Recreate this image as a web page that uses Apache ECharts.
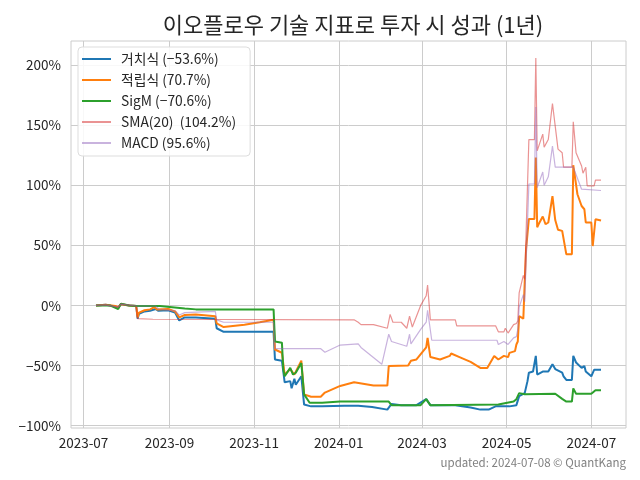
<!DOCTYPE html>
<html>
<head>
<meta charset="utf-8">
<script src="https://cdn.jsdelivr.net/npm/echarts@6/dist/echarts.min.js"></script>
<style>html,body{margin:0;padding:0;background:#fff;}#c{width:640px;height:480px;}</style>
</head>
<body>
<div id="c"></div>
<script>
var titleText = '이오플로우 기술 지표로 투자 시 성과 (1년)';
var footerText = 'updated: 2024-07-08 © QuantKang';
var seriesNames = ['거치식 (\u221253.6%)', '적립식 (70.7%)', 'SigM (\u221270.6%)', 'SMA(20)  (104.2%)', 'MACD (95.6%)'];
var xTickDates = ['2023-07-01','2023-09-01','2023-11-01','2024-01-01','2024-03-01','2024-05-01','2024-07-01'];
var yTicks = [-100, -50, 0, 50, 100, 150, 200];

var geochi = [
['2023-07-10',0],['2023-07-17',0.5],['2023-07-24',-1],['2023-07-26',-2],['2023-07-28',1],['2023-08-03',0],['2023-08-08',-0.5],
['2023-08-09',-11],['2023-08-10',-7],['2023-08-14',-5],['2023-08-18',-4.5],['2023-08-22',-3],['2023-08-24',-4.5],['2023-08-31',-4],
['2023-09-05',-6],['2023-09-08',-12.5],['2023-09-12',-10],['2023-09-20',-10],['2023-10-04',-11],['2023-10-05',-19],['2023-10-10',-22],
['2023-11-15',-22],['2023-11-16',-45],['2023-11-21',-46],['2023-11-23',-64],['2023-11-27',-63],['2023-11-28',-69],['2023-11-30',-61],
['2023-12-01',-66],['2023-12-05',-59],['2023-12-07',-82.5],['2023-12-12',-84],['2023-12-20',-84],['2024-01-05',-83.5],['2024-01-15',-83.5],
['2024-01-25',-84.5],['2024-02-05',-86.7],['2024-02-08',-82],['2024-02-15',-83],['2024-02-26',-83],['2024-03-04',-78],['2024-03-07',-83],
['2024-03-25',-83],['2024-04-05',-85],['2024-04-12',-86.7],['2024-04-18',-86.7],['2024-04-23',-84],['2024-05-03',-84],['2024-05-08',-83],
['2024-05-10',-75.5],['2024-05-14',-73],['2024-05-16',-63],['2024-05-17',-56],['2024-05-20',-55],['2024-05-22',-42],['2024-05-23',-57.5],
['2024-05-27',-55],['2024-05-28',-56],['2024-05-31',-55],['2024-06-03',-49],['2024-06-05',-53],['2024-06-10',-56],['2024-06-11',-59],
['2024-06-13',-62],['2024-06-17',-62],['2024-06-18',-42],['2024-06-20',-47.5],['2024-06-24',-52],['2024-06-26',-50.5],['2024-06-27',-55],
['2024-06-28',-55],['2024-07-01',-59],['2024-07-03',-53.6],['2024-07-08',-53.6]
];
var jeokrip = [
['2023-07-10',0],['2023-07-17',0.5],['2023-07-24',-0.5],['2023-07-26',-1.5],['2023-07-28',1],['2023-08-03',0],['2023-08-08',-0.5],
['2023-08-09',-10],['2023-08-10',-6],['2023-08-14',-4],['2023-08-18',-3.3],['2023-08-21',-1.5],['2023-08-23',-3.5],['2023-08-31',-3],
['2023-09-05',-5],['2023-09-08',-10],['2023-09-12',-8],['2023-09-20',-7.5],['2023-10-04',-9],['2023-10-05',-15],['2023-10-10',-18],
['2023-10-25',-16],['2023-11-05',-14],['2023-11-15',-12],['2023-11-16',-36.7],['2023-11-21',-39.4],['2023-11-23',-57.5],['2023-11-27',-53],
['2023-11-30',-57.5],['2023-12-05',-46],['2023-12-07',-74],['2023-12-12',-76],['2023-12-19',-76],['2023-12-22',-72.5],['2024-01-02',-67],
['2024-01-12',-64],['2024-01-26',-66.7],['2024-02-05',-66.7],['2024-02-06',-50.5],['2024-02-20',-50],['2024-02-22',-46],['2024-02-26',-45],
['2024-03-04',-35],['2024-03-05',-27],['2024-03-07',-43],['2024-03-14',-45],['2024-03-21',-42],['2024-03-22',-40],['2024-03-28',-43],
['2024-04-05',-47],['2024-04-12',-52],['2024-04-17',-52],['2024-04-22',-42],['2024-04-25',-45],['2024-04-29',-42],['2024-05-02',-43],
['2024-05-03',-39.5],['2024-05-07',-38],['2024-05-08',-32.5],['2024-05-09',-30],['2024-05-10',-9],['2024-05-13',-11],['2024-05-14',19],
['2024-05-15',47],['2024-05-17',72],['2024-05-21',72],['2024-05-22',123],['2024-05-23',65],['2024-05-24',67.5],['2024-05-27',74],
['2024-05-29',67.5],['2024-05-31',69],['2024-06-03',91],['2024-06-05',71],['2024-06-07',63],['2024-06-10',62],['2024-06-13',42.5],
['2024-06-17',42.5],['2024-06-18',116.7],['2024-06-21',92.5],['2024-06-24',82.7],['2024-06-26',80],['2024-06-27',69],['2024-07-01',69],
['2024-07-02',49.4],['2024-07-04',71.7],['2024-07-08',70.7]
];
var sigm = [
['2023-07-10',0],['2023-07-20',0],['2023-07-26',-3],['2023-07-28',1.5],['2023-08-03',0],['2023-08-08',-0.5],['2023-08-25',-0.5],
['2023-09-12',-2.5],['2023-09-20',-3.3],['2023-11-15',-3.3],['2023-11-16',-30],['2023-11-21',-31],['2023-11-22',-53],['2023-11-23',-59],
['2023-11-27',-52],['2023-11-29',-57.5],['2023-12-01',-56],['2023-12-05',-48],['2023-12-07',-74],['2023-12-11',-81],['2023-12-20',-81],
['2024-01-02',-80],['2024-02-06',-80],['2024-02-08',-83],['2024-02-29',-83],['2024-03-04',-78],['2024-03-07',-83],['2024-04-25',-82.5],
['2024-05-06',-80],['2024-05-08',-78],['2024-05-10',-73],['2024-05-14',-74],['2024-06-05',-73.5],['2024-06-10',-77.8],['2024-06-13',-80],
['2024-06-17',-80],['2024-06-18',-69],['2024-06-20',-73.5],['2024-07-01',-73.5],['2024-07-04',-70.6],['2024-07-08',-70.6]
];
var sma20 = [
['2023-07-10',0],['2023-07-17',0.5],['2023-07-26',-1.5],['2023-07-28',1],['2023-08-08',-0.5],['2023-08-09',-11],['2023-08-20',-11.5],
['2024-01-12',-12],['2024-01-15',-14],['2024-01-17',-16],['2024-01-26',-16],['2024-02-05',-19],['2024-02-07',-7.5],['2024-02-09',-14],
['2024-02-15',-14],['2024-02-19',-19],['2024-02-21',-9],['2024-02-23',-18],['2024-02-29',0],['2024-03-04',8],['2024-03-05',17],
['2024-03-07',-12],['2024-03-25',-12],['2024-03-26',-17],['2024-04-23',-17],['2024-04-25',-22],['2024-04-29',-22],['2024-04-30',-19],
['2024-05-02',-23],['2024-05-06',-16],['2024-05-08',-15],['2024-05-09',-13],['2024-05-10',10.5],['2024-05-13',25],['2024-05-14',21.7],
['2024-05-17',138],['2024-05-21',138],['2024-05-22',205.8],['2024-05-23',128.6],['2024-05-27',142.5],['2024-05-28',131.7],['2024-05-31',138],
['2024-06-03',168],['2024-06-07',130],['2024-06-10',127],['2024-06-11',115],['2024-06-17',115],['2024-06-18',152.8],['2024-06-20',127],
['2024-06-24',116],['2024-06-25',110],['2024-06-27',115],['2024-06-28',99.5],['2024-07-03',99.5],['2024-07-04',104.2],['2024-07-08',104.2]
];
var macd = [
['2023-07-10',0],['2023-07-17',0.5],['2023-07-26',-1.5],['2023-07-28',1],['2023-08-08',-0.5],['2023-08-22',-0.5],['2023-08-24',-3],
['2023-09-05',-4.5],['2023-09-08',-8],['2023-09-12',-6],['2023-10-04',-5],['2023-10-05',-12],['2023-10-10',-14],['2023-11-15',-14],
['2023-11-16',-36],['2023-12-19',-36],['2023-12-22',-39],['2024-01-02',-33],['2024-01-15',-32],['2024-01-17',-35],['2024-02-01',-49],
['2024-02-06',-24],['2024-02-08',-30],['2024-02-19',-34],['2024-02-21',-24],['2024-02-22',-32],['2024-02-29',-20],['2024-03-04',-14],
['2024-03-05',-4],['2024-03-08',-29],['2024-04-24',-29],['2024-04-25',-32.5],['2024-04-29',-30],['2024-05-02',-32.5],['2024-05-06',-27],
['2024-05-08',-26],['2024-05-09',-20],['2024-05-10',-1.6],['2024-05-13',9],['2024-05-14',3],['2024-05-17',101],['2024-05-21',101],
['2024-05-22',165],['2024-05-23',98],['2024-05-27',111],['2024-05-28',100],['2024-05-31',107],['2024-06-03',132.5],['2024-06-05',115],
['2024-06-18',115],['2024-06-24',96.7],['2024-07-08',95.6]
];

function parseLocal(s){ var p = s.split('-'); return new Date(+p[0], +p[1]-1, +p[2]).getTime(); }
var FONT = '"Noto Sans CJK KR", "Noto Sans", sans-serif';
var chart = echarts.init(document.getElementById('c'));
var colors = ['#1f77b4', '#ff7f0e', '#2ca02c', '#d62728', '#9467bd'];
var datasets = [geochi, jeokrip, sigm, sma20, macd];
var widths = [2, 2, 2, 1.2, 1.2];
var opac = [1, 1, 1, 0.5, 0.5];

chart.setOption({
  animation: false,
  backgroundColor: '#fff',
  title: {
    text: titleText, left: 348, textAlign: 'center', top: 9,
    textStyle: {fontFamily: FONT, fontSize: 22, fontWeight: 'normal', color: '#262626'}
  },
  graphic: [{
    type: 'text', right: 14, top: 457,
    style: {text: footerText, fontFamily: FONT, fontSize: 11.5, fill: '#808080'}
  }],
  legend: {
    orient: 'vertical', left: 78, top: 47,
    data: seriesNames.map(function(n, i){ return {name: n, itemStyle: {color: colors[i], opacity: opac[i]}}; }),
    icon: 'rect', itemWidth: 29, itemHeight: 2, itemGap: 7,
    padding: [5, 14, 6, 4],
    backgroundColor: 'rgba(255,255,255,0.85)', borderColor: '#dddddd', borderWidth: 1, borderRadius: 4,
    textStyle: {fontFamily: FONT, fontSize: 13.8, color: '#262626', lineHeight: 14, padding: [0, 0, 0, 5]}
  },
  grid: {left: 71, right: 14, top: 41, bottom: 52, show: true, borderColor: '#cccccc', borderWidth: 1},
  xAxis: {
    type: 'value',
    min: parseLocal('2023-06-22'), max: parseLocal('2024-07-26'),
    axisLine: {show: false}, axisTick: {show: false, customValues: xTickDates.map(parseLocal)},
    axisLabel: {
      customValues: xTickDates.map(parseLocal),
      fontFamily: FONT, fontSize: 13.5, color: '#262626', margin: 8, hideOverlap: false,
      formatter: function(v){ var d = new Date(v); var m = d.getMonth()+1; return d.getFullYear() + '-' + (m < 10 ? '0' + m : m); }
    },
    splitLine: {show: true, lineStyle: {color: '#cccccc', width: 1}}
  },
  yAxis: {
    type: 'value', min: -102, max: 220,
    axisLine: {show: false}, axisTick: {show: false, customValues: yTicks},
    axisLabel: {
      customValues: yTicks,
      fontFamily: FONT, fontSize: 13.5, color: '#262626', margin: 10,
      formatter: function(v){ return (v < 0 ? '\u2212' + Math.abs(v) : v) + '%'; }
    },
    splitLine: {show: true, lineStyle: {color: '#cccccc', width: 1}}
  },
  series: datasets.map(function(d, i){
    return {
      name: seriesNames[i], type: 'line', data: d.map(function(p){ return [parseLocal(p[0]), p[1]]; }),
      showSymbol: false, symbol: 'none',
      lineStyle: {color: colors[i], width: widths[i], opacity: opac[i]},
      itemStyle: {color: colors[i]}
    };
  })
});
</script>
</body>
</html>
